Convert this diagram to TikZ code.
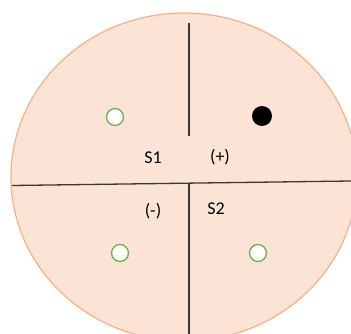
\documentclass[tikz,border=0pt]{standalone}
\usepackage{fontspec}
\setmainfont{Carlito}
\definecolor{peachfill}{HTML}{FBE4D5}
\definecolor{peachline}{HTML}{F4B183}
\definecolor{dotgreen}{HTML}{70AD47}
\definecolor{axisgray}{HTML}{383838}
\tikzset{
  lbl/.style={font=\fontsize{18}{18}\selectfont, inner sep=0pt, anchor=base},
  hole/.style={circle, draw=dotgreen, line width=1.3pt, fill=white, minimum size=17pt, inner sep=0pt},
  spot/.style={circle, fill=black, minimum size=20pt, inner sep=0pt}
}
\begin{document}
\begin{tikzpicture}[x=1pt,y=-1pt]
	\useasboundingbox (0,0) rectangle (351,334);
	\clip (0,0) rectangle (351,334);
	% disk
	\draw[peachline, fill=peachfill, line width=1.2pt] (184,177) ellipse [x radius=173, y radius=164];
	% dividing lines
	\draw[axisgray, line width=1.3pt] (12,185.5) -- (351,181);
	\draw[axisgray, line width=1.3pt] (189,23) -- (189,136);
	\draw[axisgray, line width=1.3pt] (189,184) -- (189,334);
	% points
	\node[hole] (p1) at (115,117) {};
	\node[spot] (p2) at (262,116) {};
	\node[hole] (p3) at (120,253) {};
	\node[hole] (p4) at (258,253) {};
	% labels
	\node[lbl] (s1) at (153,163.5) {S1};
	\node[lbl] (plus) at (220,162.5) {(+)};
	\node[lbl] (minus) at (153,216.5) {(-)};
	\node[lbl] (s2) at (216,214.5) {S2};
\end{tikzpicture}
\end{document}
